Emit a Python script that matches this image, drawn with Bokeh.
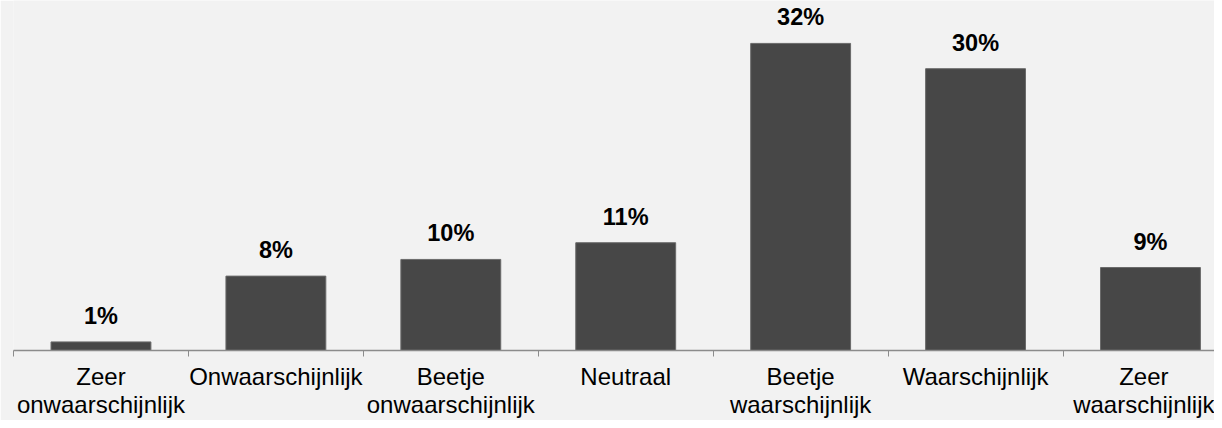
from bokeh.plotting import figure
from bokeh.models import Range1d, FixedTicker, ColumnDataSource
from bokeh.core.properties import value
from bokeh.embed import file_html
from bokeh.resources import INLINE

categories = ["Zeer\nonwaarschijnlijk", "Onwaarschijnlijk", "Beetje\nonwaarschijnlijk",
              "Neutraal", "Beetje\nwaarschijnlijk", "Waarschijnlijk", "Zeer\nwaarschijnlijk"]
values = [0.9, 7.8, 9.55, 11.3, 32.2, 29.55, 8.7]
labels = ["1%", "8%", "10%", "11%", "32%", "30%", "9%"]

xs = list(range(len(categories)))
src = ColumnDataSource(dict(x=xs, top=values, label=labels))

BG = "#f2f2f2"
p = figure(width=1214, height=420, output_backend="svg", toolbar_location=None,
           x_range=Range1d(-0.5, 6.366), y_range=Range1d(0, 36.7),
           min_border_left=13, min_border_right=0, min_border_top=0, min_border_bottom=60,
           background_fill_color=BG, border_fill_color=BG, outline_line_color=None)

p.vbar(x="x", top="top", bottom=0, width=0.571, source=src,
       fill_color="#474747", line_color="#6a6a6a", line_width=1)

p.text(x="x", y="top", text="label", source=src, y_offset=-26,
       text_align="center", text_baseline="alphabetic",
       text_font=value("Liberation Sans"), text_font_style="bold",
       text_font_size="23.5px", text_color="#000000")

p.yaxis.visible = False
p.grid.visible = False

ax = p.xaxis[0]
ax.ticker = FixedTicker(ticks=xs, minor_ticks=[i - 0.5 for i in range(len(categories) + 1)])
ax.major_label_overrides = {i: c for i, c in enumerate(categories)}
ax.major_tick_line_color = None
ax.major_tick_out = 0
ax.major_tick_in = 0
ax.minor_tick_line_color = "#8c8c8c"
ax.minor_tick_out = 6
ax.minor_tick_in = 0
ax.minor_tick_line_width = 1
ax.axis_line_color = "#8c8c8c"
ax.axis_line_width = 1.3
ax.major_label_text_font = "Liberation Sans"
ax.major_label_text_font_size = "24px"
ax.major_label_text_line_height = 1.05
ax.major_label_text_color = "#000000"
ax.major_label_standoff = 6

open("out.html", "w").write(file_html(p, INLINE))
